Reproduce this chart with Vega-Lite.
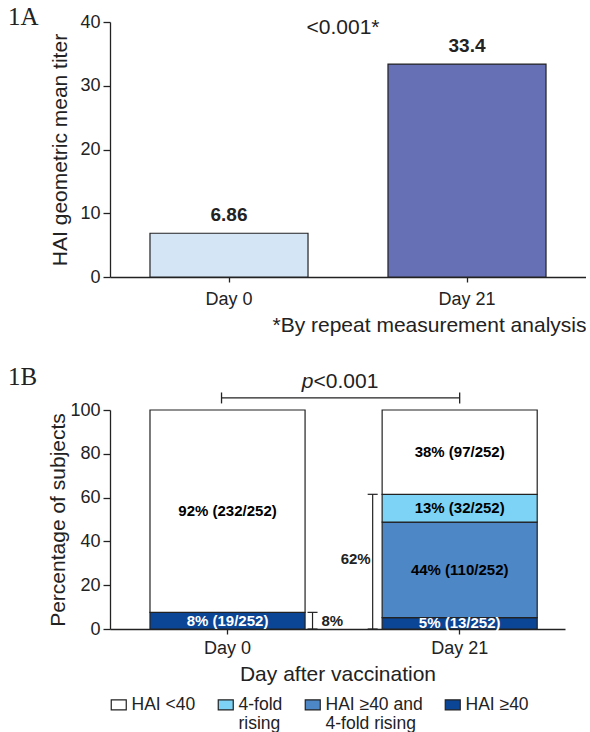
{
  "$schema": "https://vega.github.io/schema/vega-lite/v6.json",
  "padding": {"left": 8, "top": 5, "right": 0, "bottom": 0},
  "background": "white",
  "config": {
    "font": "Liberation Sans",
    "view": {"stroke": null},
    "concat": {"spacing": 29},
    "axis": {
      "grid": false,
      "domainColor": "#222",
      "tickColor": "#222",
      "labelColor": "#222",
      "titleColor": "#222",
      "labelFont": "Liberation Sans",
      "titleFont": "Liberation Sans",
      "titleFontWeight": "normal",
      "labelFontSize": 18,
      "titleFontSize": 21,
      "domainWidth": 1.3,
      "tickWidth": 1.3
    },
    "text": {"font": "Liberation Sans", "color": "#222"}
  },
  "resolve": {"scale": {"color": "independent"}},
  "vconcat": [
    {
      "width": 476,
      "height": 255,
      "title": {"text": "1A", "anchor": "start", "frame": "group", "font": "Liberation Serif", "fontSize": 25, "fontWeight": "normal", "color": "#222", "dx": -102, "offset": -37, "baseline": "alphabetic"},
      "data": {"values": [
        {"day": "Day 0", "gmt": 6.86},
        {"day": "Day 21", "gmt": 33.4}
      ]},
      "layer": [
        {
          "mark": {"type": "bar", "stroke": "#222", "strokeWidth": 1.2},
          "encoding": {
            "x": {"field": "day", "type": "nominal", "sort": ["Day 0", "Day 21"],
                  "scale": {"paddingInner": 0.336, "paddingOuter": 0.168},
                  "axis": {"labelAngle": 0, "tickSize": 5, "labelPadding": 8, "titlePadding": 6, "titleAnchor": "end", "title": "*By repeat measurement analysis"}},
            "y": {"field": "gmt", "type": "quantitative",
                  "scale": {"domain": [0, 40]},
                  "axis": {"values": [0, 10, 20, 30, 40], "tickSize": 7, "labelPadding": 3, "titlePadding": 9, "title": "HAI geometric mean titer"}},
            "color": {"field": "day", "type": "nominal", "scale": {"domain": ["Day 0", "Day 21"], "range": ["#d4e5f6", "#6670b4"]}, "legend": null}
          }
        },
        {
          "mark": {"type": "text", "fontWeight": "bold", "fontSize": 19, "baseline": "bottom", "dy": -8},
          "encoding": {
            "x": {"field": "day", "type": "nominal", "sort": ["Day 0", "Day 21"]},
            "y": {"field": "gmt", "type": "quantitative"},
            "text": {"field": "gmt", "type": "quantitative"}
          }
        },
        {
          "data": {"values": [{}]},
          "mark": {"type": "text", "fontSize": 21, "baseline": "middle", "xOffset": 114},
          "encoding": {
            "x": {"datum": "Day 0"},
            "y": {"datum": 39},
            "text": {"value": "<0.001*"}
          }
        }
      ]
    },
    {
      "width": 455,
      "height": 219,
      "title": {"text": "1B", "anchor": "start", "frame": "group", "font": "Liberation Serif", "fontSize": 25, "fontWeight": "normal", "color": "#222", "dx": -102, "offset": -39, "baseline": "alphabetic"},
      "data": {"values": [
        {"day": "Day 0", "cat": "HAI ≥40", "ord": 1, "pct": 7.6, "label": "8% (19/252)"},
        {"day": "Day 0", "cat": "HAI <40", "ord": 4, "pct": 92.4, "label": "92% (232/252)"},
        {"day": "Day 21", "cat": "HAI ≥40", "ord": 1, "pct": 5.16, "label": "5% (13/252)"},
        {"day": "Day 21", "cat": "HAI ≥40 and 4-fold rising", "ord": 2, "pct": 43.65, "label": "44% (110/252)"},
        {"day": "Day 21", "cat": "4-fold rising", "ord": 3, "pct": 12.7, "label": "13% (32/252)"},
        {"day": "Day 21", "cat": "HAI <40", "ord": 4, "pct": 38.49, "label": "38% (97/252)"}
      ]},
      "layer": [
        {
          "transform": [
            {"stack": "pct", "groupby": ["day"], "sort": [{"field": "ord", "order": "ascending"}], "as": ["lo", "hi"]}
          ],
          "mark": {"type": "bar", "stroke": "#222", "strokeWidth": 1.2},
          "encoding": {
            "x": {"field": "day", "type": "nominal", "sort": ["Day 0", "Day 21"],
                  "scale": {"paddingInner": 0.332, "paddingOuter": 0.146, "align": 0.59},
                  "axis": {"labelAngle": 0, "tickSize": 5, "labelPadding": 5, "titlePadding": 6, "title": "Day after vaccination"}},
            "y": {"field": "lo", "type": "quantitative",
                  "scale": {"domain": [0, 100]},
                  "axis": {"values": [0, 20, 40, 60, 80, 100], "tickSize": 7, "labelPadding": 3, "titlePadding": 1, "title": "Percentage of subjects"}},
            "y2": {"field": "hi"},
            "color": {"field": "cat", "type": "nominal",
                      "scale": {"domain": ["HAI <40", "4-fold rising", "HAI ≥40 and 4-fold rising", "HAI ≥40"], "range": ["#ffffff", "#7dd3f5", "#4e87c6", "#0b4596"]},
                      "legend": {"orient": "bottom", "direction": "horizontal", "columns": 4, "title": null,
                                 "labelFont": "Liberation Sans", "labelFontSize": 17.5, "labelColor": "#222",
                                 "symbolType": "M-1,-0.67H1V0.67H-1Z", "symbolSize": 225,
                                 "symbolStrokeColor": "#222", "symbolStrokeWidth": 1.2,
                                 "columnPadding": 19, "labelOffset": 4, "offset": 12,
                                 "labelExpr": "datum.label == '4-fold rising' ? ['4-fold\u00a0\u00a0', 'rising'] : datum.label == 'HAI ≥40 and 4-fold rising' ? ['HAI ≥40 and\u00a0', '4-fold rising'] : [datum.label, '']"}}
          }
        },
        {
          "transform": [
            {"stack": "pct", "groupby": ["day"], "sort": [{"field": "ord", "order": "ascending"}], "as": ["lo", "hi"]},
            {"fold": ["lo", "hi"], "as": ["edge", "v"]}
          ],
          "mark": {"type": "text", "fontWeight": "bold", "fontSize": 15, "baseline": "middle"},
          "encoding": {
            "x": {"field": "day", "type": "nominal", "sort": ["Day 0", "Day 21"]},
            "y": {"aggregate": "mean", "field": "v", "type": "quantitative"},
            "detail": {"field": "cat"},
            "text": {"field": "label"},
            "color": {"condition": {"test": "datum.cat === 'HAI ≥40'", "value": "white"}, "value": "black"}
          }
        },
        {
          "data": {"values": [{}]},
          "mark": {"type": "rule", "color": "#222", "strokeWidth": 1.3, "xOffset": -6},
          "encoding": {"x": {"datum": "Day 0"}, "x2": {"datum": "Day 21"}, "y": {"datum": 105.5}}
        },
        {
          "data": {"values": [{}]},
          "mark": {"type": "rule", "color": "#222", "strokeWidth": 1.3, "xOffset": -6},
          "encoding": {"x": {"datum": "Day 0"}, "y": {"datum": 103}, "y2": {"datum": 108}}
        },
        {
          "data": {"values": [{}]},
          "mark": {"type": "rule", "color": "#222", "strokeWidth": 1.3},
          "encoding": {"x": {"datum": "Day 21"}, "y": {"datum": 103}, "y2": {"datum": 108}}
        },
        {
          "data": {"values": [{}]},
          "mark": {"type": "text", "fontSize": 21, "fontStyle": "italic", "align": "right", "baseline": "middle", "xOffset": 86},
          "encoding": {"x": {"datum": "Day 0"}, "y": {"datum": 113}, "text": {"value": "p"}}
        },
        {
          "data": {"values": [{}]},
          "mark": {"type": "text", "fontSize": 21, "align": "left", "baseline": "middle", "xOffset": 86},
          "encoding": {"x": {"datum": "Day 0"}, "y": {"datum": 113}, "text": {"value": "<0.001"}}
        },
        {
          "data": {"values": [{}]},
          "mark": {"type": "rule", "color": "#222", "strokeWidth": 1.2, "xOffset": -87},
          "encoding": {"x": {"datum": "Day 21"}, "y": {"datum": 0}, "y2": {"datum": 61.5}}
        },
        {
          "data": {"values": [{}]},
          "mark": {"type": "rule", "color": "#222", "strokeWidth": 1.2, "xOffset": -92, "x2Offset": -82},
          "encoding": {"x": {"datum": "Day 21"}, "x2": {"datum": "Day 21"}, "y": {"datum": 61.5}}
        },
        {
          "data": {"values": [{}]},
          "mark": {"type": "rule", "color": "#222", "strokeWidth": 1.2, "xOffset": -92, "x2Offset": -82},
          "encoding": {"x": {"datum": "Day 21"}, "x2": {"datum": "Day 21"}, "y": {"datum": 0}}
        },
        {
          "data": {"values": [{}]},
          "mark": {"type": "text", "fontSize": 15, "fontWeight": "bold", "align": "right", "baseline": "middle", "xOffset": -89},
          "encoding": {"x": {"datum": "Day 21"}, "y": {"datum": 32}, "text": {"value": "62%"}}
        },
        {
          "data": {"values": [{}]},
          "mark": {"type": "rule", "color": "#222", "strokeWidth": 1.2, "xOffset": 85},
          "encoding": {"x": {"datum": "Day 0"}, "y": {"datum": 0}, "y2": {"datum": 7.6}}
        },
        {
          "data": {"values": [{}]},
          "mark": {"type": "rule", "color": "#222", "strokeWidth": 1.2, "xOffset": 80, "x2Offset": 90},
          "encoding": {"x": {"datum": "Day 0"}, "x2": {"datum": "Day 0"}, "y": {"datum": 7.6}}
        },
        {
          "data": {"values": [{}]},
          "mark": {"type": "rule", "color": "#222", "strokeWidth": 1.2, "xOffset": 80, "x2Offset": 90},
          "encoding": {"x": {"datum": "Day 0"}, "x2": {"datum": "Day 0"}, "y": {"datum": 0}}
        },
        {
          "data": {"values": [{}]},
          "mark": {"type": "text", "fontSize": 15, "fontWeight": "bold", "align": "left", "baseline": "middle", "xOffset": 94},
          "encoding": {"x": {"datum": "Day 0"}, "y": {"datum": 3.8}, "text": {"value": "8%"}}
        }
      ]
    }
  ]
}
